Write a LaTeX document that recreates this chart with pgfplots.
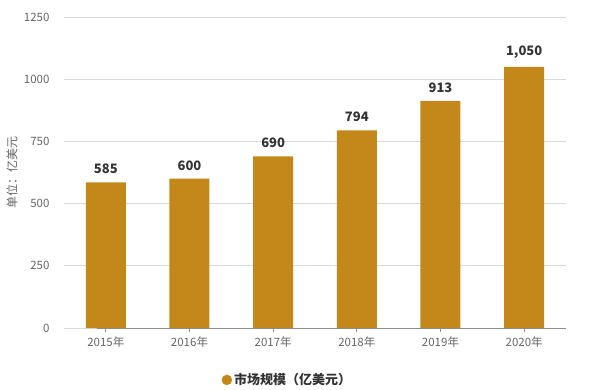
\documentclass[border=0pt]{standalone}
\usepackage{fontspec}
\setmainfont{Noto Sans CJK SC}
\usepackage{pgfplots}
\pgfplotsset{compat=1.18}
\definecolor{barc}{RGB}{196,136,26}
\definecolor{gridc}{RGB}{217,217,217}
\definecolor{tickc}{RGB}{102,102,102}
\definecolor{valc}{RGB}{51,51,51}
\begin{document}
\begin{tikzpicture}
\path[use as bounding box] (-64pt,-61pt) rectangle (533pt,328pt);
\begin{axis}[
  at={(0,0)}, anchor=south west,
  scale only axis, width=502pt, height=311pt,
  xmin=-0.5, xmax=5.5, ymin=0, ymax=1250,
  ytick={0,250,500,750,1000,1250},
  yticklabels={0,250,500,750,1000,1250},
  xtick=data,
  xticklabels={2015年,2016年,2017年,2018年,2019年,2020年},
  axis x line*=bottom, axis y line*=left,
  y axis line style={draw=none},
  ymajorgrids, grid style={gridc, line width=0.8pt},
  x axis line style={draw=black!45, line width=0.8pt, -},
  xtick style={draw=black!45, line width=0.8pt},
  ytick style={draw=none},
  tick align=outside,
  major tick length=4pt,
  ticklabel style={font=\fontsize{11.5}{13}\selectfont, text=tickc},
  y tick label style={xshift=-7pt},
  x tick label style={yshift=-1pt},
  ylabel={单位：亿美元},
  every axis y label/.style={at={(rel axis cs:0,0.5)}, xshift=-52pt, rotate=90, anchor=center,
    font=\fontsize{12}{14}\selectfont, text=tickc},
  legend style={at={(0.445,-0.167)}, anchor=center, draw=none, fill=none,
    font=\fontsize{13}{15}\selectfont\bfseries, text=valc},
  legend cell align=left,
  legend image code/.code={\fill[barc] (0.15cm,0cm) circle (5pt);},
]
\pgfplotsextra{\foreach \yy in {0,250,500,750,1000,1250}{\draw[gridc, line width=0.8pt] (axis cs:-0.5,\yy) -- ++(-9pt,0);}}
\addplot[ybar, bar width=40pt, fill=barc, draw=none, forget plot,
  nodes near coords,
  nodes near coords style={font=\fontsize{13}{15}\selectfont\bfseries, text=valc, anchor=south, yshift=5pt,
    /pgf/number format/.cd, 1000 sep={,}, assume math mode=true}]
  coordinates {(0,585) (1,600) (2,690) (3,794) (4,913) (5,1050)};
\addlegendimage{fill=barc}
\addlegendentry{市场规模（亿美元）}
\end{axis}
\end{tikzpicture}
\end{document}
